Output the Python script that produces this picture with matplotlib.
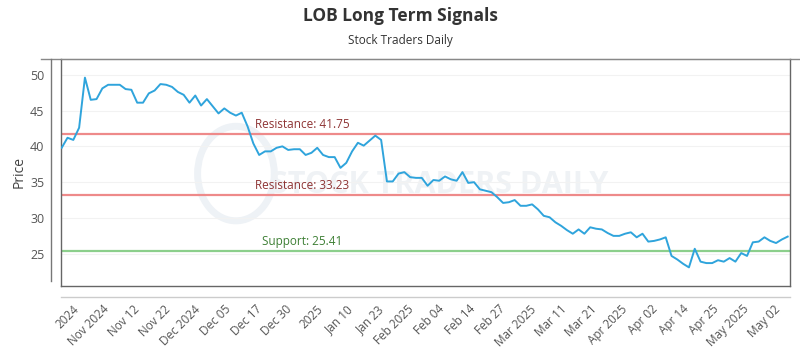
import numpy as np
import matplotlib
matplotlib.use('Agg')
import matplotlib.pyplot as plt
from matplotlib.patches import Circle

plt.rcParams['font.family'] = ['Open Sans', 'DejaVu Sans']

TITLE = 'LOB Long Term Signals'
SUBTITLE = 'Stock Traders Daily'

# closing prices, oldest -> newest
prices = [
    39.8, 41.2, 40.9, 42.6, 49.6, 46.5, 46.6, 48.1, 48.6, 48.6,
    48.6, 48.0, 47.9, 46.1, 46.1, 47.4, 47.8, 48.7, 48.6, 48.3,
    47.6, 47.2, 46.1, 47.1, 45.7, 46.6, 45.6, 44.6, 45.3, 44.7,
    44.3, 44.7, 42.8, 40.4, 38.8, 39.3, 39.3, 39.8, 40.0, 39.5,
    39.6, 39.6, 38.8, 39.1, 39.8, 38.8, 38.5, 38.5, 37.0, 37.7,
    39.3, 40.5, 40.1, 40.8, 41.5, 40.9, 35.1, 35.1, 36.2, 36.4,
    35.7, 35.6, 35.6, 34.5, 35.3, 35.2, 35.8, 35.4, 35.2, 36.4,
    34.9, 35.0, 34.0, 33.8, 33.6, 32.9, 32.1, 32.2, 32.5, 31.7,
    31.7, 31.9, 31.2, 30.3, 30.1, 29.4, 28.9, 28.3, 27.8, 28.4,
    27.8, 28.7, 28.5, 28.4, 27.9, 27.5, 27.5, 27.8, 28.0, 27.3,
    27.8, 26.7, 26.8, 27.0, 27.3, 24.7, 24.2, 23.6, 23.1, 25.7,
    23.9, 23.7, 23.7, 24.1, 23.9, 24.4, 23.9, 25.1, 24.7, 26.6,
    26.7, 27.3, 26.8, 26.5, 27.0, 27.4,
]

tick_labels = ['2024', 'Nov 2024', 'Nov 12', 'Nov 22', 'Dec 2024', 'Dec 05',
               'Dec 17', 'Dec 30', '2025', 'Jan 10', 'Jan 23', 'Feb 2025',
               'Feb 04', 'Feb 14', 'Feb 27', 'Mar 2025', 'Mar 11', 'Mar 21',
               'Apr 2025', 'Apr 02', 'Apr 14', 'Apr 25', 'May 2025', 'May 02']

levels = [41.75, 33.23, 25.41]
level_names = ['Resistance', 'Resistance', 'Support']
level_colors = ['#ee8a8a', '#ee8a8a', '#8ccf8c']
level_text_colors = ['#8e3434', '#8e3434', '#3d7f34']
level_label_x = [33.2, 33.2, 34.5]

x = np.arange(len(prices))

fig = plt.figure(figsize=(8, 3.5), dpi=100)
ax = fig.add_axes([61 / 800, 64 / 350, 729 / 800, 227 / 350])

# faint watermark
ax.add_patch(Circle((30.0, 36.2), radius=6.6, facecolor='none',
                    edgecolor='#eef2f6', lw=5, zorder=0))
ax.text(36.0, 34.6, 'STOCK TRADERS DAILY', fontsize=22, fontweight='bold',
        color='#eff2f5', ha='left', va='center', zorder=0)

ax.grid(axis='y', color='#f2f2f2', lw=0.8)
ax.set_axisbelow(True)

for lvl, name, c, tc, lx in zip(levels, level_names, level_colors, level_text_colors, level_label_x):
    ax.axhline(lvl, color=c, lw=1.6, zorder=2)
    ax.text(lx, lvl + 0.35, f'{name}: {lvl:.2f}', color=tc, fontsize=8.5,
            ha='left', va='bottom', zorder=3)

ax.plot(x, prices, color='#2fa4dc', lw=1.4, zorder=4)

ax.set_xlim(-0.12, 125.4)
ax.set_ylim(20.5, 52.2)
ax.set_yticks([25, 30, 35, 40, 45, 50])
ax.set_xticks(np.linspace(3.4, 124.1, len(tick_labels)))
ax.set_xticklabels(tick_labels, rotation=45, ha='right', rotation_mode='default')
ax.tick_params(axis='x', length=0, pad=12, labelsize=8.5, labelcolor='#555555')
ax.tick_params(axis='y', length=0, pad=12, labelsize=9, labelcolor='#555555')
ax.set_ylabel('Price', fontsize=10, color='#444444')
ax.yaxis.set_label_coords(-0.047, 0.5)

for s in ['left', 'bottom', 'right']:
    ax.spines[s].set_color('#666666')
    ax.spines[s].set_linewidth(1.0)
ax.spines['top'].set_color('#888888')

# outer frame lines (extended top, offset left axis, x-axis line)
ax.plot([-0.027, 1.013], [1, 1], transform=ax.transAxes, color='#888888', lw=1.0, clip_on=False)
ax.plot([-0.0137, -0.0137], [0.02, 1], transform=ax.transAxes, color='#777777', lw=1.0, clip_on=False)
ax.plot([0, 1], [-0.048, -0.048], transform=ax.transAxes, color='#cccccc', lw=1.0, clip_on=False)

fig.text(0.5, 0.955, TITLE, ha='center', va='center', fontsize=12.5, fontweight='bold', color='#333333')
fig.text(0.5, 0.885, SUBTITLE, ha='center', va='center', fontsize=8.5, color='#333333')

fig.savefig('out.png', dpi=100)
